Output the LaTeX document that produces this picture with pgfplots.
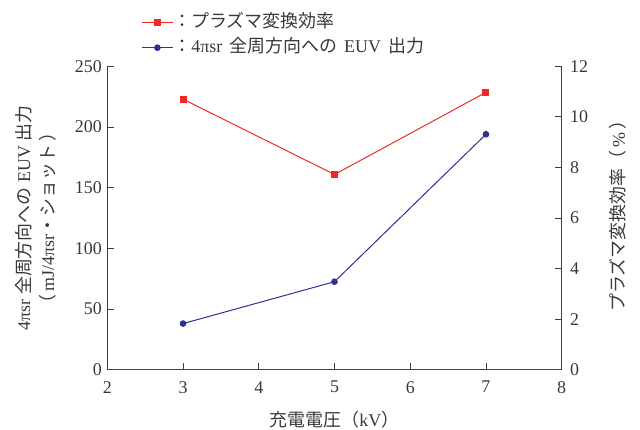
\documentclass[border=0pt]{standalone}
\usepackage{fontspec}
\usepackage{pgfplots}
\pgfplotsset{compat=1.18}
\setmainfont{Liberation Serif}
\newfontfamily\jp{Noto Sans CJK JP}
\newcommand{\J}[1]{{\jp #1}}
\definecolor{effred}{HTML}{EE2A24}
\definecolor{euvblue}{HTML}{2E3192}
\definecolor{axgray}{HTML}{404040}
\definecolor{txtgray}{HTML}{383838}

% EUV output into 4 pi sr (mJ/4 pi sr per shot)
\pgfplotstableread{
kv euv
3 38
5 72.5
7 194
}\euvdata
% plasma conversion efficiency (%)
\pgfplotstableread{
kv ce
3 10.7
5 7.72
7 10.97
}\cedata

\tikzset{lbl/.style={font=\fontsize{18}{24}\selectfont, text=txtgray}}

\begin{document}
\begin{tikzpicture}
\useasboundingbox (0,0) rectangle (640bp,430bp);
\pgfplotsset{
  common/.style={
    at={(107.3bp,60.3bp)}, anchor=south west,
    width=454.4bp, height=303.4bp, scale only axis,
    xmin=2, xmax=8,
    axis line style={axgray, line width=0.8pt},
    tick style={axgray, line width=0.8pt},
    major tick length=7bp,
    tick align=inside,
    ticklabel style={font=\fontsize{18}{21}\selectfont, text=txtgray},
    /pgf/number format/assume math mode=true,
  },
}
\begin{axis}[common,
  axis x line*=bottom, axis y line*=left,
  ymin=0, ymax=250, ytick={0,50,...,250}, xtick={2,...,8},
  xticklabel style={yshift=-8bp},
  yticklabel style={xshift=-2bp},
  xlabel={\J{充電電圧（}kV\J{）}},
  every axis x label/.style={lbl, at={(axis description cs:0.5,0)}, anchor=center, yshift=-50bp},
  ylabel={4πsr \J{全周方向への} EUV \J{出力}\\\J{（}\,mJ/4πsr\J{・ショット}\,\J{）}},
  every axis y label/.style={lbl, at={(axis description cs:-0.158,0.5)}, anchor=center, rotate=90, align=center},
]
\addplot[euvblue, line width=1pt, mark=*, mark size=2.8bp] table[x=kv,y=euv]{\euvdata};
\end{axis}
\begin{axis}[common,
  axis x line=none, axis y line*=right,
  ymin=0, ymax=12, ytick={0,2,...,12},
  yticklabel style={xshift=5bp},
  ylabel={\J{プラズマ変換効率（}\,\%\,\J{）}},
  every axis y label/.style={lbl, at={(axis description cs:1.124,0.52)}, anchor=center, rotate=90},
  legend style={draw=none, fill=none, at={(axis description cs:0.068,1.026)}, anchor=south west,
    font=\fontsize{18}{22}\selectfont, text=txtgray,
    nodes={inner sep=0pt, text height=13bp, text depth=4bp}, row sep=8bp},
  legend cell align=left,
  legend image code/.code={\draw[mark repeat=2, mark phase=2, #1] plot coordinates {(0bp,0bp) (15.5bp,0bp) (31bp,0bp)};},
]
\addplot[effred, line width=1pt, mark=square*, mark size=3bp] table[x=kv,y=ce]{\cedata};
\addlegendentry{\J{：プラズマ変換効率}}
\addlegendimage{euvblue, line width=1pt, mark=*, mark size=2.8bp}
\addlegendentry{\J{：}4πsr\hspace{0.4em}\J{全周方向への}\hspace{0.4em}EUV\hspace{0.4em}\J{出力}}
\end{axis}
\end{tikzpicture}
\end{document}
